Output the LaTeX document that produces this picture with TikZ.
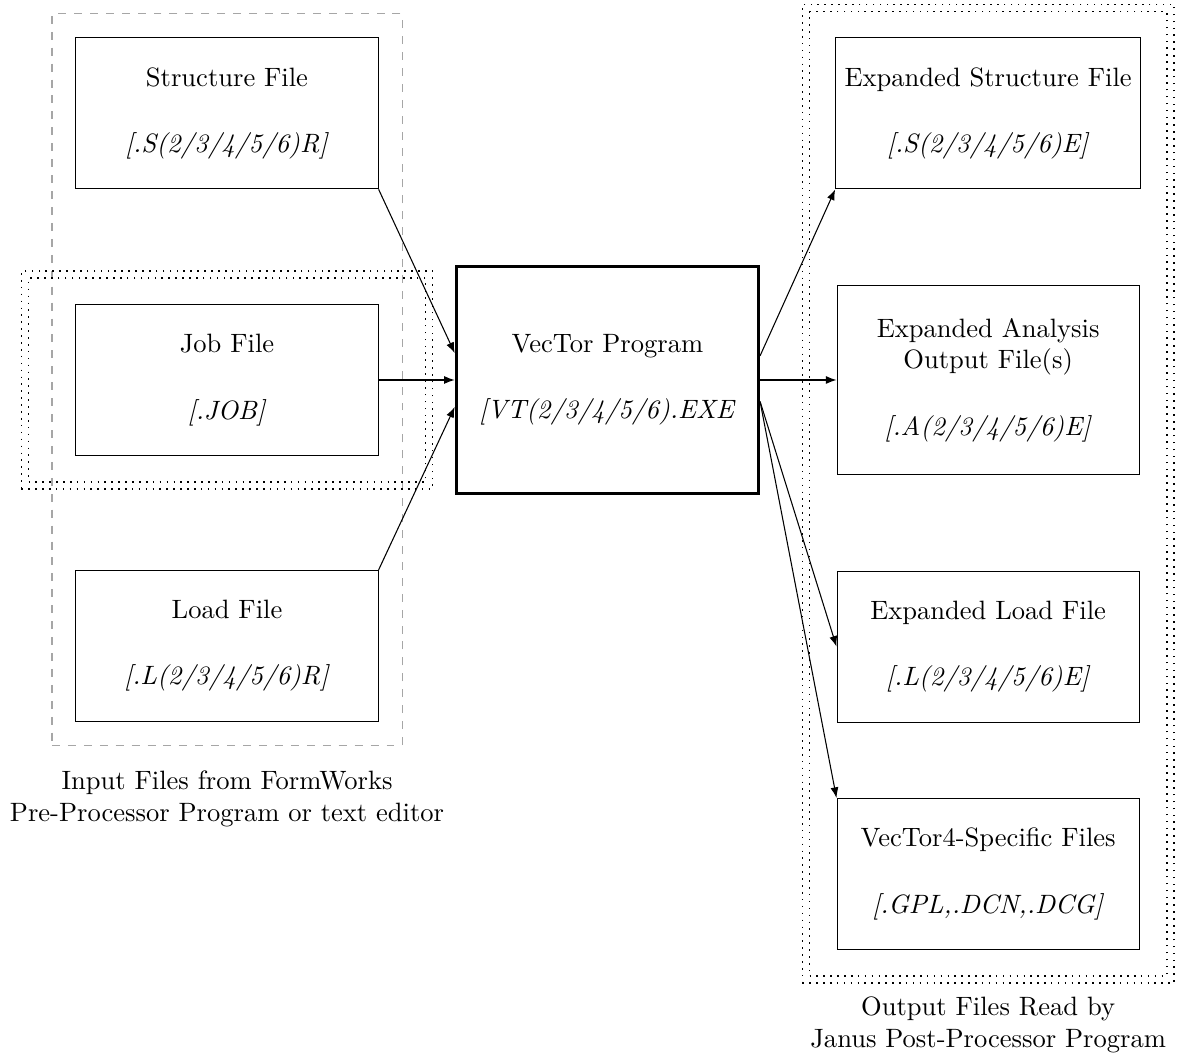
\documentclass[tikz,border=0pt]{standalone}
\usepackage{tikz}
\usetikzlibrary{arrows}
\usetikzlibrary{arrows.meta}
\usetikzlibrary{fit}
\usetikzlibrary{positioning}

\tikzset{
  filebox/.style={draw, minimum width=4cm, minimum height=2cm, align=center},
  progbox/.style={draw, very thick, minimum width=4cm, minimum height=3cm, align=center},
  dotgroup/.style={draw, semithick, dotted},
  dashgroup/.style={draw, gray!70, dashed},
  flow/.style={-{Latex[length=4pt,width=3pt]}},
}

\begin{document}
\begin{tikzpicture}
    \useasboundingbox (0,0) rectangle (15.58,13.99);

    % Fichiers d'entree
    \node[filebox] (struct) at (3.005,12.49) {Structure File\\[13pt]\textit{[.S(2/3/4/5/6)R]}};
    \node[filebox] (job) at (3.005,8.96) {Job File\\[13pt]\textit{[.JOB]}};
    \node[filebox] (load) at (3.005,5.44) {Load File\\[13pt]\textit{[.L(2/3/4/5/6)R]}};

    % Programme
    \node[progbox] (vec) at (8.04,8.96) {VecTor Program\\[13pt]\textit{[VT(2/3/4/5/6).EXE}};

    % Fichiers de sortie
    \node[filebox] (exstruct) at (13.08,12.49) {Expanded Structure File\\[13pt]\textit{[.S(2/3/4/5/6)E]}};
    \node[filebox, minimum height=2.5cm] (exana) at (13.08,8.96) {Expanded Analysis\\Output File(s)\\[13pt]\textit{[.A(2/3/4/5/6)E]}};
    \node[filebox] (exload) at (13.08,5.43) {Expanded Load File\\[13pt]\textit{[.L(2/3/4/5/6)E]}};
    \node[filebox] (vtfour) at (13.08,2.42) {VecTor4-Specific Files\\[13pt]\textit{[.GPL,.DCN,.DCG]}};

    % Groupes
    \node[dashgroup, fit=(struct)(load), inner sep=0.31cm] (inputs) {};
    \node[dotgroup, fit=(job), inner xsep=0.62cm, inner ysep=0.34cm] (jobin) {};
    \node[dotgroup, fit=(job), inner xsep=0.715cm, inner ysep=0.435cm] (jobout) {};
    \node[dotgroup, fit=(exstruct)(vtfour), inner sep=0.34cm] (outin) {};
    \node[dotgroup, fit=(exstruct)(vtfour), inner sep=0.435cm] (outputs) {};

    \node[below=0.2cm of inputs, align=center] (inlabel) {Input Files from FormWorks\\Pre-Processor Program or text editor};
    \node[below=0.05cm of outputs, align=center] (outlabel) {Output Files Read by\\Janus Post-Processor Program};

    % Fleches
    \draw[flow] (struct.south east) -- (vec.170);
    \draw[flow] (job.east) -- (vec.west);
    \draw[flow] (load.north east) -- (vec.190);
    \draw[flow] (vec.9) -- (exstruct.south west);
    \draw[flow] (vec.east) -- (exana.west);
    \draw[flow] (vec.-8) -- (exload.west);
    \draw[flow] (vec.-8) -- (vtfour.north west);
\end{tikzpicture}
\end{document}
